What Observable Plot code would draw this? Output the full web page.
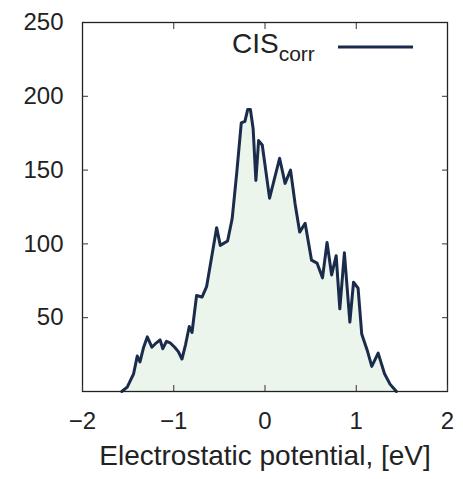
<!DOCTYPE html>
<html>
<head>
<meta charset="utf-8">
<script src="https://cdn.jsdelivr.net/npm/d3@7"></script>
<script src="https://cdn.jsdelivr.net/npm/@observablehq/plot@0.6"></script>
<style>
  html, body { margin: 0; padding: 0; background: #fff; }
  #chart svg { font-family: "Liberation Sans", Arial, sans-serif; }
</style>
</head>
<body>
<div id="chart"></div>
<script>
// Electrostatic potential (eV)
const potential = [-1.57,-1.51,-1.44,-1.40,-1.37,-1.33,-1.29,-1.24,-1.19,-1.15,-1.12,-1.08,-1.04,-0.99,-0.95,-0.91,-0.87,-0.83,-0.80,-0.75,-0.69,-0.64,-0.53,-0.49,-0.41,-0.36,-0.31,-0.26,-0.22,-0.19,-0.16,-0.13,-0.10,-0.07,-0.03,0.05,0.16,0.22,0.28,0.33,0.38,0.44,0.51,0.57,0.63,0.68,0.73,0.78,0.82,0.87,0.93,0.97,1.02,1.06,1.12,1.17,1.24,1.31,1.37,1.44];
// Counts (CIS_corr)
const counts = [0,3,12,24,20,30,37,30,33,35,29,34,33,30,27,22,32,44,40,65,64,71,111,99,102,117,148,182,183,191,191,178,143,170,167,131,158,141,150,127,108,114,89,87,77,101,79,92,56,94,47,74,70,39,28,17,26,12,5,0];
const xTicks = [-2, -1, 0, 1, 2];
const yTickLabels = [50, 100, 150, 200, 250];
const yTicks = [50, 100, 150, 200];
const seriesName = "CIS";
const seriesSub = "corr";
const xLabel = "Electrostatic potential, [eV]";

const data = potential.map((x, i) => ({x, y: counts[i]}));
const fmt = d => (d < 0 ? "\u2212" + Math.abs(d) : String(d));

const W = 463, H = 479;
const lineColor = "#1a2b4b";

const svg = Plot.plot({
  width: W,
  height: H,
  marginLeft: 82,
  marginRight: 16,
  marginTop: 22,
  marginBottom: 88,
  style: {fontFamily: "Liberation Sans, Arial, sans-serif", color: "#222", background: "#fff"},
  x: {domain: [-2, 2]},
  y: {domain: [0, 250]},
  marks: [
    Plot.areaY(data, {x: "x", y: "y", fill: "#ecf5eb"}),
    Plot.line(data, {x: "x", y: "y", stroke: lineColor, strokeWidth: 3, strokeLinejoin: "round"}),
    Plot.frame({stroke: "#222", strokeWidth: 1.3}),
    Plot.axisX(xTicks, {anchor: "bottom", tickSize: -6, text: null, stroke: "#333", label: null}),
    Plot.axisX(xTicks.slice(1, -1), {anchor: "top", tickSize: -6, text: null, stroke: "#333", label: null}),
    Plot.axisY(yTicks, {anchor: "left", tickSize: -6, text: null, stroke: "#333", label: null}),
    Plot.axisY(yTicks, {anchor: "right", tickSize: -6, text: null, stroke: "#333", label: null}),
    Plot.axisX(xTicks, {anchor: "bottom", tickSize: 0, tickPadding: 20, fontSize: 24, fill: "#222",
      tickFormat: fmt, label: xLabel, labelAnchor: "center", labelArrow: "none", labelOffset: 73}),
    Plot.axisY(yTickLabels, {anchor: "left", tickSize: 0, tickPadding: 19, fontSize: 24, fill: "#222", label: null})
  ]
});

// legend
const s = d3.select(svg);
const leg = s.append("g").attr("text-anchor", "start");
const t = leg.append("text")
  .attr("x", 232).attr("y", 53)
  .attr("text-anchor", "start")
  .attr("font-size", 28).attr("fill", "#222")
  .attr("font-family", "Liberation Sans, Arial, sans-serif");
t.append("tspan").text(seriesName);
t.append("tspan").attr("font-size", 21).attr("dy", 8).text(seriesSub);
leg.append("line")
  .attr("x1", 338).attr("x2", 413).attr("y1", 47).attr("y2", 47)
  .attr("stroke", lineColor).attr("stroke-width", 3);

document.getElementById("chart").appendChild(svg);
// enlarge axis label font
s.selectAll("text").filter(function() { return this.textContent === xLabel; }).attr("font-size", 28);
</script>
</body>
</html>
